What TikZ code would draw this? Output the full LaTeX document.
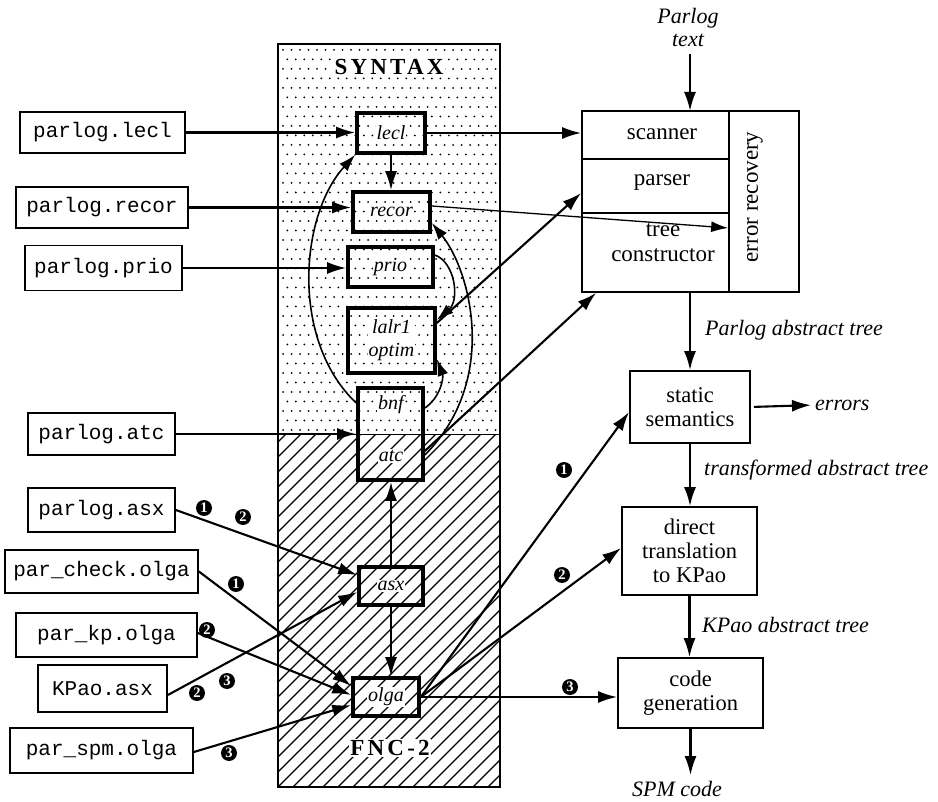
\documentclass[tikz,border=0pt]{standalone}
\usepackage{fontspec}
\setmainfont{Liberation Serif}
\setmonofont{Liberation Mono}
\usetikzlibrary{arrows.meta,calc}

\begin{document}
\begin{tikzpicture}[x=1pt,y=-1pt,
  filebox/.style={draw,line width=1.7pt,inner sep=0pt,font=\fontsize{21}{23}\selectfont\ttfamily},
  toolbox/.style={draw,line width=3.6pt,inner sep=0pt},
  toollabel/.style={fill=white,inner sep=1pt,align=center,font=\fontsize{20}{23}\selectfont\itshape},
  cell/.style={draw,line width=1.7pt,inner sep=0pt},
  celllabel/.style={align=center,inner sep=0pt,font=\fontsize{23}{25}\selectfont},
  stagebox/.style={draw,line width=1.8pt,inner sep=0pt,align=center,font=\fontsize{22.5}{24}\selectfont},
  flowlabel/.style={inner sep=0pt,align=center,font=\fontsize{22}{23}\selectfont\itshape},
  partlabel/.style={fill=white,inner sep=1.5pt,font=\fontsize{23}{24}\selectfont\bfseries\addfontfeature{LetterSpace=14}},
  badge/.style={circle,fill=black,text=white,inner sep=0pt,minimum size=16pt,font=\fontsize{14.5}{14.5}\selectfont\bfseries},
  tip/.style={-{Latex[length=19pt,width=12pt]}},
  arr/.style={tip,line width=2.1pt},
  curvearr/.style={-{Latex[length=17pt,width=11pt]},line width=1.6pt},
  thinarr/.style={-{Latex[length=17pt,width=11pt]},line width=1.3pt},
]
\useasboundingbox (0,0) rectangle (938,802);

% ---- FNC-2 column: stippled SYNTAX part and hatched lower part ----
\foreach \yy in {50,69,...,430} {
  \foreach \xx in {283,291.5,...,497} \fill (\xx,\yy) circle (1pt);
}
\foreach \yy in {59.5,78.5,...,430} {
  \foreach \xx in {287.25,295.75,...,497} \fill (\xx,\yy) circle (1pt);
}
\begin{scope}
  \clip (278,435) rectangle (500,787);
  \foreach \xx in {-82,-67,...,500} \draw[line width=1.2pt] (\xx,787) -- ++(360,-360);
\end{scope}
\node[draw,line width=1.9pt,minimum width=222pt,minimum height=743pt,inner sep=0pt] (column) at (389,415.5) {};
\draw[line width=1pt] (column.west |- 0,435) -- (column.east |- 0,435);
\node[partlabel] (syntaxlbl) at (389,67) {SYNTAX};
\node[partlabel] (fnclbl) at (390,748) {FNC-2};

% ---- tools inside the column ----
\node[toolbox,minimum width=68pt,minimum height=40pt] (lecl) at (391,133) {};
\node[toolbox,minimum width=77pt,minimum height=40pt] (recor) at (391.5,212) {};
\node[toolbox,minimum width=85pt,minimum height=40pt] (prio) at (390.5,267) {};
\node[toolbox,minimum width=87pt,minimum height=65pt] (lalr) at (391.5,340.5) {};
\node[toolbox,minimum width=65pt,minimum height=92pt] (bnfatc) at (390.5,434) {};
\node[toolbox,minimum width=64pt,minimum height=38pt] (asx) at (391,586) {};
\node[toolbox,minimum width=66pt,minimum height=38pt] (olga) at (386,697) {};

\node[toollabel] (lecllbl) at (lecl) {lecl};
\node[toollabel] (recorlbl) at (recor) {recor};
\node[toollabel] (priolbl) at (prio) {prio};
\node[toollabel] (lalrlbl) at (lalr) {lalr1\\optim};
\node[toollabel] (bnflbl) at (391,405) {bnf};
\node[toollabel] (atclbl) at (391,456) {atc};
\node[toollabel] (asxlbl) at (asx) {asx};
\node[toollabel] (olgalbl) at (olga) {olga};

% ---- input files ----
\node[filebox,minimum width=165pt,minimum height=41pt] (flecl) at (102.5,132.5) {parlog.lecl};
\node[filebox,minimum width=172pt,minimum height=41pt] (frecor) at (102,207.5) {parlog.recor};
\node[filebox,minimum width=157pt,minimum height=45pt] (fprio) at (103.5,268) {parlog.prio};
\node[filebox,minimum width=147pt,minimum height=42pt] (fatc) at (101.5,434) {parlog.atc};
\node[filebox,minimum width=147pt,minimum height=44pt] (fasx) at (101.5,510) {parlog.asx};
\node[filebox,minimum width=193pt,minimum height=43pt] (fcheck) at (101.5,571.5) {par\_check.olga};
\node[filebox,minimum width=181pt,minimum height=44pt] (fkp) at (106.5,635) {par\_kp.olga};
\node[filebox,minimum width=129pt,minimum height=47pt] (fkpao) at (102.5,688.5) {KPao.asx};
\node[filebox,minimum width=183pt,minimum height=45pt] (fspm) at (101.5,750.5) {par\_spm.olga};

% ---- generated front end ----
\node[cell,minimum width=147pt,minimum height=48pt] (scanner) at (655.5,135) {};
\node[cell,minimum width=147pt,minimum height=54pt] (parser) at (655.5,186) {};
\node[cell,minimum width=147pt,minimum height=79pt] (tree) at (655.5,252.5) {};
\node[cell,minimum width=70pt,minimum height=181pt] (errrec) at (764,201.5) {};
\node[celllabel] (scannerlbl) at (662,134) {scanner};
\node[celllabel] (parserlbl) at (662,183) {parser};
\node[celllabel] (treelbl) at (663,243) {tree\\constructor};
\node[celllabel,rotate=90] (errlbl) at (755,197) {error recovery};

\node[flowlabel] (srctext) at (688,27) {Parlog\\text};
\coordinate (srcin) at (690,111);

% ---- compiler stages ----
\node[stagebox,minimum width=120pt,minimum height=72pt] (static) at (690,407) {static\\semantics};
\node[stagebox,minimum width=135pt,minimum height=88pt] (direct) at (689.5,551) {direct\\translation\\to KPao};
\node[stagebox,minimum width=145pt,minimum height=70pt] (code) at (690.5,693) {code\\generation};

\node[flowlabel,anchor=west] (lblparlog) at (705,330) {Parlog abstract tree};
\node[flowlabel,anchor=west] (lbltrans) at (704,470) {transformed abstract tree};
\node[flowlabel,anchor=west] (lblkpao) at (702,625) {KPao abstract tree};
\node[flowlabel,anchor=west] (errs) at (815,405) {errors};
\node[flowlabel] (spm) at (677,789) {SPM code};

% ---- main flow on the right ----
\draw[arr,shorten <=8pt] (srctext.south -| srcin) -- (srcin);
\draw[arr] (static.north |- tree.south) -- (static.north);
\draw[arr] (static.south) -- (static.south |- direct.north);
\draw[arr] (direct.south) -- (direct.south |- code.north);
\draw[arr,shorten >=6pt] (code.south) -- (code.south |- spm.north);
\draw[arr,shorten <=3pt,shorten >=4pt] (static.east) -- (errs.west);

% ---- inputs to the SYNTAX tools ----
\draw[arr] (flecl.east) -- (flecl.east -| lecl.west);
\draw[arr] (frecor.east) -- (frecor.east -| recor.west);
\draw[arr] (fprio.east) -- (fprio.east -| prio.west);
\draw[arr] (fatc.east) -- (fatc.east -| bnfatc.west);
\draw[arr] (lecl.east) -- (lecl.east -| scanner.west);
\draw[arr] (lecl.south) -- (lecl.south |- recor.north);
\draw[thinarr] (recor.east |- 0,206) -- (errrec.west |- 0,228);
\draw[arr] (lalr.east |- 0,323) -- (parser.west |- 0,193);
\draw[arr] (bnfatc.east |- 0,451) -- ($(tree.south west)+(15,0)$);

% dependencies between the SYNTAX tools
\draw[curvearr] (bnfatc.west |- 0,403) .. controls (290,340) and (300,215) .. (lecl.south west);
\draw[curvearr] (bnfatc.east |- 0,455) .. controls (500,380) and (470,270) .. (recor.east |- 0,223);
\draw[curvearr] (bnfatc.east |- 0,408) .. controls (440,398) and (444,378) .. (lalr.east |- 0,359);
\draw[curvearr] (prio.east |- 0,255) .. controls (455,262) and (460,300) .. (lalr.east |- 0,320);

% ---- FNC-2 part ----
\draw[arr] (asx.north) -- (asx.north |- bnfatc.south);
\draw[arr] (asx.south) -- (asx.south |- olga.north);
\draw[arr] (fasx.east) -- (asx.west |- 0,575);
\draw[arr] (fkpao.east |- 0,695) -- (asx.west |- 0,592);
\draw[arr] (fcheck.east) -- (olga.west |- 0,686);
\draw[arr] (fkp.east |- 0,633) -- (olga.west |- 0,695);
\draw[arr] (fspm.east |- 0,752) -- (olga.west |- 0,705);
\draw[arr] (olga.east) -- (static.west |- 0,412);
\draw[arr] (olga.east) -- (direct.west |- 0,548);
\draw[arr] (olga.east) -- (olga.east -| code.west);

% ---- numbered variants ----
\node[badge] (b1a) at (204,508) {1};
\node[badge] (b2a) at (243,517) {2};
\node[badge] (b1b) at (236,584) {1};
\node[badge] (b2b) at (207,630) {2};
\node[badge] (b3a) at (227,681) {3};
\node[badge] (b2c) at (197,693) {2};
\node[badge] (b3b) at (229,753) {3};
\node[badge] (b1c) at (564,470) {1};
\node[badge] (b2d) at (562,575) {2};
\node[badge] (b3c) at (570,687) {3};
\end{tikzpicture}
\end{document}
